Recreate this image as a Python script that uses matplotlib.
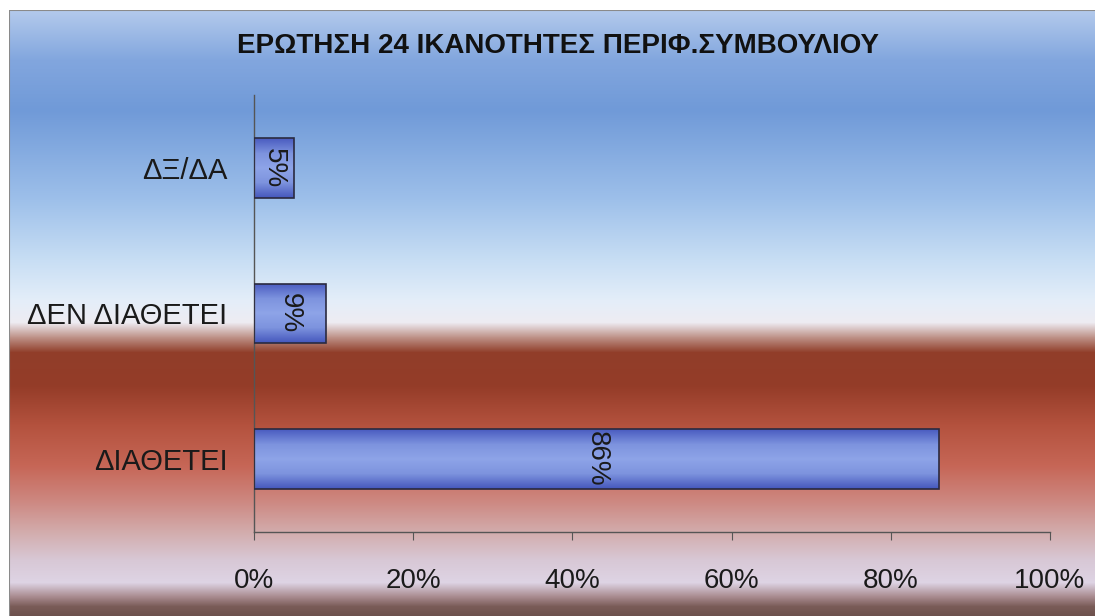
import numpy as np
import matplotlib.pyplot as plt
from matplotlib.colors import LinearSegmentedColormap

# data
categories = ['ΔΙΑΘΕΤΕΙ', 'ΔΕΝ ΔΙΑΘΕΤΕΙ', 'ΔΞ/ΔΑ']
values = [86, 9, 5]
bar_labels = ['86%', '9%', '5%']
xticks = [0, 20, 40, 60, 80, 100]
xtick_labels = ['0%', '20%', '40%', '60%', '80%', '100%']
title = 'ΕΡΩΤΗΣΗ 24 ΙΚΑΝΟΤΗΤΕΣ ΠΕΡΙΦ.ΣΥΜΒΟΥΛΙΟΥ'

W, H = 1095, 616
plt.rcParams['font.family'] = ['Liberation Sans', 'DejaVu Sans']

fig = plt.figure(figsize=(W / 100, H / 100), dpi=100, facecolor='white')

# background panel gradient (pixel row -> colour)
stops = [
    (10, (180, 202, 236)), (60, (130, 166, 222)), (110, (112, 154, 216)),
    (200, (158, 192, 234)), (260, (200, 222, 244)), (300, (228, 238, 249)),
    (322, (238, 236, 242)), (337, (190, 145, 135)), (352, (145, 62, 42)),
    (385, (148, 60, 40)), (425, (180, 82, 62)), (465, (198, 102, 86)),
    (500, (205, 135, 128)), (530, (210, 170, 170)), (560, (216, 200, 214)),
    (582, (222, 212, 228)), (596, (170, 140, 145)), (606, (122, 92, 88)),
    (616, (108, 80, 76)),
]
rows = np.arange(10, 616)
sy = [s[0] for s in stops]
bg = np.zeros((len(rows), 1, 3))
for c in range(3):
    bg[:, 0, c] = np.interp(rows, sy, [s[1][c] for s in stops]) / 255.0

bax = fig.add_axes([9 / W, 0, 1 - 9 / W, (H - 10) / H])
bax.imshow(bg, aspect='auto', extent=[0, 1, 0, 1], interpolation='bilinear')
bax.set_xlim(0, 1)
bax.set_ylim(0, 1)
bax.axis('off')
bax.plot([0, 0, 1], [0, 1, 1], color='#8a8a8a', lw=1.5, transform=bax.transAxes)

fig.text(558 / W, 1 - 46 / H, title, ha='center', va='center', fontsize=20,
         fontweight='bold', color='#111111')

ax = fig.add_axes([254 / W, (H - 532) / H, 796 / W, 437 / H])
ax.set_facecolor('none')
ypos = np.arange(len(categories))
bars = ax.barh(ypos, values, height=0.41, facecolor='none', edgecolor='#2a2a40',
               linewidth=1.2, zorder=3)

bar_cmap = LinearSegmentedColormap.from_list(
    'barg', ['#4a5cc0', '#7d93de', '#8ea4e8', '#7d93de', '#4658bd'])
grad = np.linspace(0, 1, 64).reshape(-1, 1)
for b, lab in zip(bars, bar_labels):
    x0, y0 = b.get_x(), b.get_y()
    w, h = b.get_width(), b.get_height()
    im = ax.imshow(grad, cmap=bar_cmap, aspect='auto', extent=[x0, x0 + w, y0, y0 + h],
                   zorder=2, interpolation='bilinear')
    im.set_clip_path(b)
    ax.text(x0 + w / 2, y0 + h / 2, lab, rotation=-90, ha='center', va='center',
            fontsize=20, color='#1a1a1a', zorder=4)

ax.set_xlim(0, 100)
ax.set_ylim(-0.5, len(categories) - 0.5)
ax.set_xticks(xticks)
ax.set_xticklabels(xtick_labels, fontsize=20, color='#1a1a1a')
ax.set_yticks(ypos)
ax.set_yticklabels(categories, fontsize=21, color='#1a1a1a')
ax.tick_params(axis='y', length=0, pad=19)
ax.tick_params(axis='x', length=6, direction='out', color='#555555', pad=20)
for s in ['top', 'right']:
    ax.spines[s].set_visible(False)
for s in ['left', 'bottom']:
    ax.spines[s].set_color('#555555')
    ax.spines[s].set_linewidth(1.0)

fig.savefig('out.png', dpi=100, facecolor='white')
